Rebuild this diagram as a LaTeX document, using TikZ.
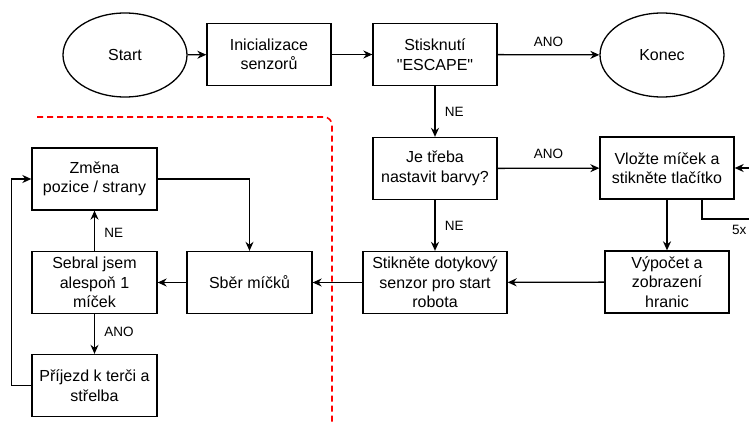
\documentclass[tikz,border=0pt]{standalone}
\usepackage{fontspec}
\setmainfont{Liberation Sans}[Ligatures=TeXOff]
\usepackage{tikz}
\usetikzlibrary{shapes.geometric,arrows.meta}

\tikzset{
  krok/.style={draw, line width=1.3pt, align=center, inner sep=0pt,
    minimum width=124pt, minimum height=62pt, font=\fontsize{16}{19.5}\selectfont},
  konce/.style={krok, ellipse, minimum height=84pt},
  sip/.style={line width=1.3pt, -{Stealth[length=9pt,width=8pt]}},
  popis/.style={font=\fontsize{13.5}{15}\selectfont}
}

\begin{document}
\begin{tikzpicture}[x=1pt, y=-1pt]
  \useasboundingbox (0,0) rectangle (749,425);

  % horni rada
  \node[konce] (start) at (125,55) {Start};
  \node[krok] (init) at (269,54.5) {Inicializace\\senzorů};
  \node[krok] (esc) at (435,54.5) {Stisknutí\\"ESCAPE"};
  \node[konce] (konec) at (662,55) {Konec};

  % prava cast
  \node[krok] (barvy) at (435,168.5) {Je třeba\\nastavit barvy?};
  \node[krok, minimum width=134pt] (vlozte) at (667,168) {Vložte míček a\\stikněte tlačítko};
  \node[krok] (vypocet) at (667,282) {Výpočet a\\zobrazení\\hranic};
  \node[krok, minimum width=144pt] (stisk) at (435,282.5) {Stikněte dotykový\\senzor pro start\\robota};

  % leva cast
  \node[krok, minimum width=125pt] (sber) at (249.5,282.5) {Sběr míčků};
  \node[krok, minimum width=125pt] (sebral) at (94.5,282.5) {Sebral jsem\\alespoň 1\\míček};
  \node[krok, minimum width=125pt] (zmena) at (94.5,179) {Změna\\pozice / strany};
  \node[krok, minimum width=125pt] (prijezd) at (94.5,385.5) {Příjezd k terči a\\střelba};

  \coordinate (mimo) at (765,219);

  \draw[sip] (start) -- (init);
  \draw[sip] (init) -- (esc);
  \draw[sip] (esc) -- node[popis, above=4pt] {ANO} (konec);
  \draw[sip] (esc) -- node[popis, right=6pt] {NE} (barvy);
  \draw[sip] (barvy) -- node[popis, above=6pt] {ANO} (vlozte);
  \draw[sip] (barvy) -- node[popis, right=6pt] {NE} (stisk);
  \draw[sip] (vlozte) -- (vypocet);
  \draw[sip] ([xshift=35pt]vlozte.south) |- (mimo) |- (vlozte.east);
  \node[popis, anchor=west, inner sep=1pt] (pet) at (731,230) {5x};
  \draw[sip] (vypocet) -- (stisk);
  \draw[sip] (stisk) -- (sber);
  \draw[sip] (sber) -- (sebral);
  \draw[sip] (sebral) -- node[popis, right=6pt, pos=0.45] {NE} (zmena);
  \draw[sip] (sebral) -- node[popis, right=6pt, pos=0.45] {ANO} (prijezd);
  \draw[sip] (zmena.east) -| (sber.north);
  \draw[sip] (prijezd.west) -- ++(-20,0) |- (zmena.west);

  % hranice
  \draw[red, line width=1.6pt, dash pattern=on 6pt off 4pt, rounded corners=8pt]
    (37,117) -| (332,430);
\end{tikzpicture}
\end{document}
